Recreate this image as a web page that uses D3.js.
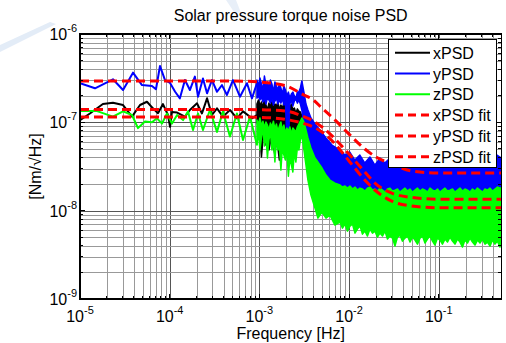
<!DOCTYPE html>
<html>
<head>
<meta charset="utf-8">
<script src="https://cdn.jsdelivr.net/npm/d3@7"></script>
<style>
  body { margin: 0; background: #fff; }
  svg { display: block; font-family: Arial, "Liberation Sans", sans-serif; }
</style>
</head>
<body>
<svg id="chart" width="506" height="343"></svg>
<script>
// ---- data ----
const xTickValues = [1e-5, 1e-4, 1e-3, 1e-2, 1e-1];
const xTickExps = ["-5", "-4", "-3", "-2", "-1"];
const yTickValues = [1e-9, 1e-8, 1e-7, 1e-6];
const yTickExps = ["-9", "-8", "-7", "-6"];
const legendLabels = ["xPSD", "yPSD", "zPSD", "xPSD fit", "yPSD fit", "zPSD fit"];

// low frequency part of each PSD, [freq, value]
const xPsdLine = [
  [1e-5, 1.06e-7], [1.29e-5, 1.26e-7], [1.80e-5, 1.61e-7], [2.33e-5, 1.67e-7],
  [3.02e-5, 1.57e-7], [3.80e-5, 1.16e-7], [4.67e-5, 1.57e-7], [5.58e-5, 1.71e-7],
  [6.51e-5, 1.44e-7], [7.41e-5, 1.27e-7], [8.42e-5, 1.61e-7], [9.57e-5, 1.21e-7],
  [1.01e-4, 8.9e-8], [1.06e-4, 1.31e-7], [1.21e-4, 1.29e-7], [1.48e-4, 1.16e-7],
  [1.68e-4, 1.38e-7], [2.02e-4, 1.64e-7], [2.29e-4, 1.26e-7], [2.61e-4, 1.87e-7],
  [2.96e-4, 1.21e-7], [3.37e-4, 1.44e-7], [3.93e-4, 1.16e-7], [4.70e-4, 1.38e-7],
  [5.62e-4, 1.11e-7], [6.57e-4, 1.33e-7], [8.27e-4, 1.11e-7], [9.40e-4, 1.21e-7]
];
const yPsdLine = [
  [1e-5, 2.78e-7], [1.47e-5, 2.43e-7], [2.33e-5, 3.07e-7], [3.02e-5, 2.32e-7],
  [3.90e-5, 3.65e-7], [4.91e-5, 2.64e-7], [6.35e-5, 2.58e-7], [7.03e-5, 2.37e-7],
  [7.80e-5, 4.34e-7], [8.87e-5, 3.01e-7], [1.01e-4, 2.79e-7], [1.15e-4, 2.22e-7],
  [1.30e-4, 1.87e-7], [1.48e-4, 3.01e-7], [1.68e-4, 2.32e-7], [1.91e-4, 3.29e-7],
  [2.07e-4, 1.95e-7], [2.35e-4, 3.14e-7], [2.61e-4, 2.13e-7], [2.96e-4, 3.01e-7],
  [3.37e-4, 2.22e-7], [3.83e-4, 2.64e-7], [4.35e-4, 2.04e-7], [5.08e-4, 3.01e-7],
  [6.08e-4, 1.95e-7], [7.28e-4, 2.77e-7], [8.27e-4, 1.87e-7], [9.40e-4, 2.77e-7]
];
const zPsdLine = [
  [1e-5, 1.34e-7], [1.55e-5, 1.34e-7], [2.33e-5, 1.16e-7], [3.02e-5, 1.33e-7],
  [3.80e-5, 1.21e-7], [4.43e-5, 8.6e-8], [5.30e-5, 1.02e-7], [6.35e-5, 1.00e-7],
  [7.21e-5, 1.11e-7], [8.21e-5, 9.7e-8], [9.33e-5, 1.26e-7], [1.06e-4, 9.7e-8],
  [1.21e-4, 1.21e-7], [1.41e-4, 1.06e-7], [1.60e-4, 1.33e-7], [1.82e-4, 8.18e-8],
  [2.07e-4, 1.26e-7], [2.35e-4, 8.18e-8], [2.81e-4, 1.38e-7], [3.37e-4, 7.8e-8],
  [3.93e-4, 1.33e-7], [4.70e-4, 6.9e-8], [5.62e-4, 1.26e-7], [6.57e-4, 6.31e-8],
  [7.86e-4, 1.16e-7], [9.40e-4, 5.53e-8]
];

// dense noisy part, [freq, low edge, high edge]
const xPsdBand = [
  [9.40e-4, 1.01e-7, 1.61e-7], [9.77e-4, 8.62e-8, 1.79e-7], [1.015e-3, 7.18e-8, 1.53e-7],
  [1.055e-3, 4.05e-8, 1.70e-7], [1.096e-3, 6.30e-8, 1.45e-7], [1.139e-3, 8.18e-8, 1.88e-7],
  [1.184e-3, 5.53e-8, 1.57e-7], [1.230e-3, 6.64e-8, 1.38e-7], [1.278e-3, 4.86e-8, 1.65e-7],
  [1.328e-3, 5.98e-8, 1.49e-7], [1.380e-3, 7.37e-8, 1.74e-7], [1.434e-3, 5.39e-8, 1.42e-7],
  [1.491e-3, 4.26e-8, 1.61e-7], [1.549e-3, 6.30e-8, 1.53e-7], [1.610e-3, 5.12e-8, 1.70e-7],
  [1.673e-3, 3.74e-8, 1.38e-7], [1.738e-3, 5.83e-8, 1.57e-7], [1.806e-3, 4.86e-8, 1.45e-7],
  [1.877e-3, 6.64e-8, 1.65e-7], [1.951e-3, 5.39e-8, 1.34e-7], [2.027e-3, 4.61e-8, 1.53e-7],
  [2.107e-3, 5.68e-8, 1.31e-7], [2.189e-3, 6.30e-8, 1.49e-7], [2.275e-3, 7.00e-8, 1.61e-7],
  [2.364e-3, 7.77e-8, 1.38e-7], [2.457e-3, 6.64e-8, 1.45e-7], [2.553e-3, 8.18e-8, 1.27e-7],
  [2.653e-3, 7.37e-8, 1.42e-7], [2.757e-3, 8.62e-8, 1.34e-7], [2.865e-3, 9.08e-8, 1.31e-7],
  [2.977e-3, 8.62e-8, 1.18e-7], [3.22e-3, 4.86e-8, 9.32e-8], [3.48e-3, 2.74e-8, 6.64e-8],
  [3.76e-3, 1.95e-8, 4.86e-8], [4.17e-3, 1.32e-8, 3.74e-8], [4.50e-3, 1.19e-8, 3.28e-8],
  [4.99e-3, 1.62e-8, 2.74e-8], [5.53e-3, 1.32e-8, 2.34e-8], [6.45e-3, 1.07e-8, 2.05e-8],
  [7.92e-3, 1.07e-8, 1.71e-8], [1.32e-2, 1.07e-8, 1.62e-8], [0.5, 1.07e-8, 1.62e-8]
];
const yPsdBand = [
  [9.40e-4, 1.88e-7, 3.01e-7], [9.77e-4, 1.99e-7, 2.58e-7], [1.015e-3, 1.79e-7, 3.18e-7],
  [1.055e-3, 1.93e-7, 2.72e-7], [1.096e-3, 1.70e-7, 2.32e-7], [1.139e-3, 1.84e-7, 3.34e-7],
  [1.184e-3, 1.61e-7, 2.65e-7], [1.230e-3, 1.88e-7, 2.86e-7], [1.278e-3, 1.79e-7, 2.45e-7],
  [1.328e-3, 1.65e-7, 3.01e-7], [1.380e-3, 1.84e-7, 2.72e-7], [1.434e-3, 1.57e-7, 2.20e-7],
  [1.491e-3, 1.74e-7, 2.86e-7], [1.549e-3, 1.88e-7, 2.58e-7], [1.610e-3, 1.61e-7, 2.32e-7],
  [1.673e-3, 1.79e-7, 2.72e-7], [1.738e-3, 1.65e-7, 2.45e-7], [1.806e-3, 1.84e-7, 2.09e-7],
  [1.877e-3, 1.57e-7, 2.58e-7], [1.951e-3, 1.74e-7, 2.32e-7], [2.027e-3, 6.30e-8, 1.99e-7],
  [2.107e-3, 5.53e-8, 2.20e-7], [2.189e-3, 1.61e-7, 1.88e-7], [2.275e-3, 1.79e-7, 2.09e-7],
  [2.364e-3, 1.53e-7, 2.20e-7], [2.457e-3, 1.74e-7, 1.99e-7], [2.553e-3, 1.84e-7, 1.88e-7],
  [2.653e-3, 1.65e-7, 2.20e-7], [2.757e-3, 1.79e-7, 2.20e-7], [2.865e-3, 1.61e-7, 2.45e-7],
  [2.977e-3, 1.38e-7, 2.94e-7], [3.14e-3, 9.32e-8, 2.20e-7], [3.31e-3, 6.30e-8, 1.61e-7],
  [3.48e-3, 4.86e-8, 1.38e-7], [3.76e-3, 3.28e-8, 1.12e-7], [4.17e-3, 2.74e-8, 9.57e-8],
  [4.74e-3, 2.34e-8, 8.18e-8], [5.53e-3, 1.95e-8, 6.64e-8], [6.45e-3, 1.80e-8, 5.53e-8],
  [7.92e-3, 1.62e-8, 4.86e-8], [9.0e-3, 1.58e-8, 4.26e-8], [1.02e-2, 1.58e-8, 4.61e-8],
  [1.16e-2, 1.54e-8, 3.74e-8], [1.32e-2, 1.58e-8, 4.26e-8], [1.50e-2, 1.54e-8, 3.46e-8],
  [1.71e-2, 1.58e-8, 4.05e-8], [1.94e-2, 1.54e-8, 3.28e-8], [2.21e-2, 1.58e-8, 3.94e-8],
  [2.51e-2, 1.54e-8, 3.46e-8], [2.86e-2, 1.58e-8, 3.94e-8], [4.77e-2, 1.54e-8, 3.74e-8],
  [0.103, 1.58e-8, 3.74e-8], [0.288, 1.54e-8, 3.74e-8], [0.424, 1.58e-8, 3.46e-8],
  [0.446, 1.58e-8, 4.26e-8], [0.5, 1.58e-8, 3.94e-8]
];
const zPsdBand = [
  [9.40e-4, 5.53e-8, 1.06e-7], [9.77e-4, 7.77e-8, 9.57e-8], [1.015e-3, 4.86e-8, 1.12e-7],
  [1.055e-3, 6.64e-8, 9.08e-8], [1.096e-3, 8.62e-8, 1.03e-7], [1.139e-3, 5.39e-8, 8.62e-8],
  [1.184e-3, 7.18e-8, 1.01e-7], [1.230e-3, 3.94e-8, 9.32e-8], [1.278e-3, 6.30e-8, 8.18e-8],
  [1.328e-3, 7.77e-8, 9.82e-8], [1.380e-3, 4.86e-8, 8.85e-8], [1.434e-3, 5.98e-8, 1.03e-7],
  [1.491e-3, 3.55e-8, 8.40e-8], [1.549e-3, 6.64e-8, 9.57e-8], [1.610e-3, 4.86e-8, 7.97e-8],
  [1.673e-3, 5.53e-8, 9.08e-8], [1.738e-3, 2.88e-8, 1.01e-7], [1.806e-3, 5.12e-8, 8.18e-8],
  [1.877e-3, 4.26e-8, 9.32e-8], [1.951e-3, 3.74e-8, 7.57e-8], [2.027e-3, 4.86e-8, 8.62e-8],
  [2.107e-3, 2.46e-8, 7.97e-8], [2.189e-3, 3.94e-8, 8.85e-8], [2.275e-3, 3.28e-8, 7.37e-8],
  [2.364e-3, 2.74e-8, 8.62e-8], [2.457e-3, 4.61e-8, 8.18e-8], [2.553e-3, 3.55e-8, 7.77e-8],
  [2.653e-3, 5.12e-8, 8.85e-8], [2.757e-3, 4.86e-8, 9.57e-8], [2.865e-3, 6.30e-8, 1.03e-7],
  [2.977e-3, 7.18e-8, 1.12e-7], [3.14e-3, 4.86e-8, 1.01e-7], [3.31e-3, 3.28e-8, 8.18e-8],
  [3.48e-3, 2.22e-8, 6.64e-8], [3.76e-3, 1.50e-8, 5.12e-8], [4.17e-3, 1.07e-8, 3.94e-8],
  [4.50e-3, 8.24e-9, 3.55e-8], [4.99e-3, 9.64e-9, 3.04e-8], [5.53e-3, 8.24e-9, 2.53e-8],
  [6.12e-3, 8.92e-9, 2.22e-8], [6.96e-3, 6.87e-9, 2.05e-8],
  [7.92e-3, 7.43e-9, 1.95e-8], [8.45e-3, 6.35e-9, 1.85e-8], [9.01e-3, 7.05e-9, 1.90e-8],
  [9.60e-3, 5.87e-9, 1.80e-8], [1.024e-2, 6.69e-9, 1.90e-8], [1.092e-2, 7.05e-9, 1.76e-8],
  [1.164e-2, 5.57e-9, 1.85e-8], [1.241e-2, 6.19e-9, 1.71e-8], [1.324e-2, 6.69e-9, 1.80e-8],
  [1.411e-2, 5.43e-9, 1.76e-8], [1.505e-2, 5.87e-9, 1.67e-8], [1.605e-2, 5.16e-9, 1.80e-8],
  [1.711e-2, 6.19e-9, 1.85e-8], [1.825e-2, 5.57e-9, 1.71e-8], [1.946e-2, 5.87e-9, 1.76e-8],
  [2.075e-2, 5.02e-9, 1.67e-8], [2.212e-2, 5.57e-9, 1.80e-8], [2.359e-2, 5.16e-9, 1.71e-8],
  [2.515e-2, 5.87e-9, 1.62e-8], [2.682e-2, 4.77e-9, 1.76e-8], [2.860e-2, 5.16e-9, 1.80e-8],
  [3.050e-2, 4.89e-9, 1.67e-8], [3.252e-2, 3.97e-9, 1.71e-8], [3.467e-2, 5.02e-9, 1.76e-8],
  [3.697e-2, 5.29e-9, 1.62e-8], [3.943e-2, 4.52e-9, 1.71e-8], [4.204e-2, 4.89e-9, 1.80e-8],
  [4.483e-2, 5.16e-9, 1.67e-8], [4.780e-2, 4.41e-9, 1.76e-8], [5.097e-2, 5.02e-9, 1.62e-8],
  [5.435e-2, 4.65e-9, 1.71e-8], [5.796e-2, 4.18e-9, 1.80e-8], [6.180e-2, 4.89e-9, 1.67e-8],
  [6.590e-2, 5.16e-9, 1.76e-8], [7.027e-2, 4.30e-9, 1.71e-8], [7.493e-2, 4.77e-9, 1.62e-8],
  [7.990e-2, 5.16e-9, 1.80e-8], [8.520e-2, 4.52e-9, 1.71e-8], [9.085e-2, 4.08e-9, 1.67e-8],
  [9.687e-2, 4.89e-9, 1.76e-8], [0.1033, 4.65e-9, 1.62e-8], [0.1101, 4.18e-9, 1.71e-8],
  [0.1174, 4.77e-9, 1.80e-8], [0.1252, 4.41e-9, 1.67e-8], [0.1335, 5.02e-9, 1.71e-8],
  [0.1424, 4.52e-9, 1.76e-8], [0.1518, 4.18e-9, 1.62e-8], [0.1619, 4.77e-9, 1.71e-8],
  [0.1726, 4.41e-9, 1.80e-8], [0.1841, 3.87e-9, 1.67e-8], [0.1963, 4.65e-9, 1.76e-8],
  [0.2093, 4.30e-9, 1.71e-8], [0.2232, 4.89e-9, 1.62e-8], [0.2380, 4.41e-9, 1.76e-8],
  [0.2537, 4.08e-9, 1.67e-8], [0.2706, 4.65e-9, 1.80e-8], [0.2885, 4.30e-9, 1.71e-8],
  [0.3076, 4.77e-9, 1.62e-8], [0.3280, 4.18e-9, 1.76e-8], [0.3498, 4.41e-9, 1.71e-8],
  [0.3730, 3.97e-9, 1.80e-8], [0.3977, 4.65e-9, 1.67e-8], [0.4241, 4.18e-9, 1.76e-8],
  [0.4522, 4.52e-9, 1.85e-8], [0.4822, 3.87e-9, 1.80e-8], [0.5, 4.30e-9, 1.80e-8]
];

// fitted curves
const fitFreq = [1e-5, 1e-4, 5e-4, 1e-3, 2e-3, 3e-3, 4e-3, 5e-3, 7e-3, 1e-2, 1.5e-2, 2e-2, 3e-2, 5e-2, 1e-1, 0.5];
const xFit = [1.40e-7, 1.40e-7, 1.40e-7, 1.39e-7, 1.34e-7, 1.18e-7, 1.035e-7, 8.85e-8, 6.47e-8, 4.38e-8, 2.74e-8, 2.0e-8, 1.58e-8, 1.41e-8, 1.35e-8, 1.35e-8];
const yFit = [2.94e-7, 2.94e-7, 2.94e-7, 2.86e-7, 2.58e-7, 2.09e-7, 1.79e-7, 1.45e-7, 1.06e-7, 7.36e-8, 4.99e-8, 4.05e-8, 3.37e-8, 2.81e-8, 2.67e-8, 2.67e-8];
const zFit = [1.15e-7, 1.15e-7, 1.15e-7, 1.14e-7, 1.076e-7, 9.82e-8, 8.85e-8, 7.77e-8, 5.68e-8, 3.65e-8, 2.22e-8, 1.67e-8, 1.28e-8, 1.13e-8, 1.08e-8, 1.08e-8];

// ---- chart ----
const svg = d3.select("#chart");
const W = 506, H = 343;
const plot = { left: 80, right: 501.4, top: 34, bottom: 299 };

const x = d3.scaleLog().domain([1e-5, 0.5]).range([plot.left, plot.right]);
const y = d3.scaleLog().domain([1e-9, 1e-6]).range([plot.bottom, plot.top]);

svg.append("rect").attr("width", W).attr("height", H).attr("fill", "#fff");

// faint brush marks in the page background
svg.append("path").attr("d", "M0,52 L0,45 L50,22 L56,24 Z").attr("fill", "#e3ecf7");
svg.append("path").attr("d", "M226,0 L236,0 L241,13 L234,12 Z").attr("fill", "#e8eff8");

svg.append("defs").append("clipPath").attr("id", "clip")
  .append("rect")
  .attr("x", plot.left).attr("y", plot.top)
  .attr("width", plot.right - plot.left).attr("height", plot.bottom - plot.top);

const isMajor = (v) => Math.abs(Math.log10(v) - Math.round(Math.log10(v))) < 1e-6;
const xGridVals = x.ticks();
const yGridVals = y.ticks();

// grid
const grid = svg.append("g").attr("shape-rendering", "crispEdges");
grid.selectAll("line.gx")
  .data(xGridVals.filter((v) => v > 1e-5 && v < 0.5))
  .join("line")
  .attr("x1", (d) => Math.round(x(d)) + 0.5).attr("x2", (d) => Math.round(x(d)) + 0.5)
  .attr("y1", plot.top).attr("y2", plot.bottom)
  .attr("stroke", (d) => (isMajor(d) ? "#555" : "#999"))
  .attr("stroke-width", 1);
grid.selectAll("line.gy")
  .data(yGridVals.filter((v) => v > 1e-9 && v < 1e-6))
  .join("line")
  .attr("y1", (d) => Math.round(y(d)) + 0.5).attr("y2", (d) => Math.round(y(d)) + 0.5)
  .attr("x1", plot.left).attr("x2", plot.right)
  .attr("stroke", (d) => (isMajor(d) ? "#555" : "#999"))
  .attr("stroke-width", 1);

// data
const line = d3.line().x((d) => x(d[0])).y((d) => y(d[1]));
const band = d3.area().x((d) => x(d[0])).y0((d) => y(d[1])).y1((d) => y(d[2]));

const series = [
  { name: "xPSD", color: "#000000", low: xPsdLine, noise: xPsdBand },
  { name: "yPSD", color: "#0000ff", low: yPsdLine, noise: yPsdBand },
  { name: "zPSD", color: "#00ff00", low: zPsdLine, noise: zPsdBand },
];

const data = svg.append("g").attr("clip-path", "url(#clip)");
series.forEach((s) => {
  data.append("path")
    .attr("d", line(s.low))
    .attr("fill", "none")
    .attr("stroke", s.color)
    .attr("stroke-width", 2)
    .attr("stroke-linejoin", "round");
  data.append("path")
    .attr("d", band(s.noise))
    .attr("fill", s.color)
    .attr("stroke", s.color)
    .attr("stroke-width", 1.5)
    .attr("stroke-linejoin", "round");
});

const fitLine = d3.line().x((d) => x(d[0])).y((d) => y(d[1])).curve(d3.curveMonotoneX);
[xFit, yFit, zFit].forEach((vals) => {
  data.append("path")
    .attr("d", fitLine(fitFreq.map((f, i) => [f, vals[i]])))
    .attr("fill", "none")
    .attr("stroke", "#ff0000")
    .attr("stroke-width", 3)
    .attr("stroke-dasharray", "9,5");
});

// frame and ticks
const axes = svg.append("g").attr("shape-rendering", "crispEdges");
axes.append("rect")
  .attr("x", plot.left).attr("y", plot.top)
  .attr("width", plot.right - plot.left).attr("height", plot.bottom - plot.top)
  .attr("fill", "none").attr("stroke", "#000").attr("stroke-width", 1.3);

const tickLen = (d) => (isMajor(d) ? 5 : 3);
xGridVals.forEach((d) => {
  const px = x(d);
  axes.append("line").attr("x1", px).attr("x2", px)
    .attr("y1", plot.bottom).attr("y2", plot.bottom - tickLen(d)).attr("stroke", "#000");
  axes.append("line").attr("x1", px).attr("x2", px)
    .attr("y1", plot.top).attr("y2", plot.top + tickLen(d)).attr("stroke", "#000");
});
yGridVals.forEach((d) => {
  const py = y(d);
  axes.append("line").attr("y1", py).attr("y2", py)
    .attr("x1", plot.left).attr("x2", plot.left + tickLen(d)).attr("stroke", "#000");
  axes.append("line").attr("y1", py).attr("y2", py)
    .attr("x1", plot.right).attr("x2", plot.right - tickLen(d)).attr("stroke", "#000");
});

// tick labels
const xl = svg.append("g").selectAll("text").data(xTickValues).join("text")
  .attr("x", (d) => x(d)).attr("y", 322)
  .attr("text-anchor", "middle").attr("font-size", 16).attr("fill", "#000");
xl.append("tspan").text("10");
xl.append("tspan").attr("dy", -8).attr("font-size", 11).text((d, i) => xTickExps[i]);

const yl = svg.append("g").selectAll("text").data(yTickValues).join("text")
  .attr("x", 77).attr("y", (d) => y(d) + 6)
  .attr("text-anchor", "end").attr("font-size", 16).attr("fill", "#000");
yl.append("tspan").text("10");
yl.append("tspan").attr("dy", -8).attr("font-size", 11).text((d, i) => yTickExps[i]);

// titles
svg.append("text").attr("x", (plot.left + plot.right) / 2).attr("y", 21)
  .attr("text-anchor", "middle").attr("font-size", 16).text("Solar pressure torque noise PSD");
svg.append("text").attr("x", (plot.left + plot.right) / 2).attr("y", 339)
  .attr("text-anchor", "middle").attr("font-size", 16).text("Frequency [Hz]");
svg.append("text")
  .attr("transform", `translate(41,${(plot.top + plot.bottom) / 2}) rotate(-90)`)
  .attr("text-anchor", "middle").attr("font-size", 16).text("[Nm/\u221AHz]");

// legend
const legend = svg.append("g");
legend.append("rect")
  .attr("x", 388.5).attr("y", 39.5).attr("width", 108).attr("height", 128)
  .attr("fill", "#fff").attr("stroke", "#000").attr("stroke-width", 1)
  .attr("shape-rendering", "crispEdges");
const legendColors = ["#000000", "#0000ff", "#00ff00", "#ff0000", "#ff0000", "#ff0000"];
legendLabels.forEach((label, i) => {
  const cy = 52.7 + i * 20.8;
  legend.append("line")
    .attr("x1", 395).attr("x2", 430).attr("y1", cy).attr("y2", cy)
    .attr("stroke", legendColors[i])
    .attr("stroke-width", i < 3 ? 2 : 3)
    .attr("stroke-dasharray", i < 3 ? null : "8,5");
  legend.append("text")
    .attr("x", 433).attr("y", cy + 6)
    .attr("font-size", 16).text(label);
});
</script>
</body>
</html>
